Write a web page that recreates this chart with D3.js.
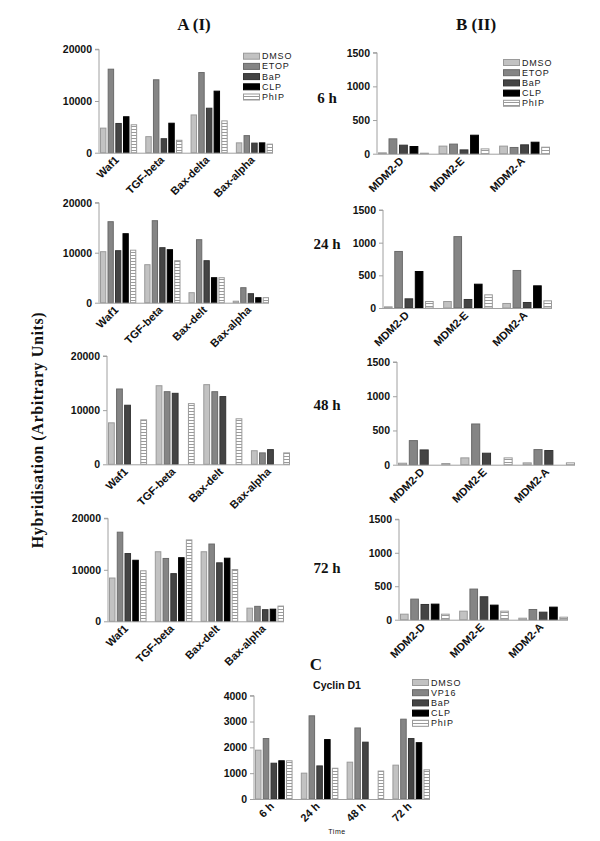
<!DOCTYPE html>
<html><head><meta charset="utf-8">
<script src="https://cdn.jsdelivr.net/npm/d3@7"></script>
<style>body{margin:0;background:#fff}svg{display:block}</style>
</head><body>
<script>
// ---------- DATA ----------
const seriesA = ["DMSO", "ETOP", "BaP", "CLP", "PhIP"];
const seriesC = ["DMSO", "VP16", "BaP", "CLP", "PhIP"];
const genesA6h = ["Waf1", "TGF-beta", "Bax-delta", "Bax-alpha"];
const genesA = ["Waf1", "TGF-beta", "Bax-delt", "Bax-alpha"];
const genesB = ["MDM2-D", "MDM2-E", "MDM2-A"];
const timesC = ["6 h", "24 h", "48 h", "72 h"];
const rowLabels = ["6 h", "24 h", "48 h", "72 h"];
const ticksA = [0, 10000, 20000];
const ticksB = [0, 500, 1000, 1500];
const ticksC = [0, 1000, 2000, 3000, 4000];

// values: one row per series (DMSO, ETOP/VP16, BaP, CLP, PhIP), one column per category
const valuesA6h = [
  [4850, 3200, 7400, 2000],
  [16250, 14200, 15600, 3400],
  [5750, 2800, 8700, 1950],
  [7050, 5800, 12000, 2000],
  [5500, 2500, 6250, 1750]
];
const valuesA24h = [
  [10300, 7700, 2100, 400],
  [16300, 16500, 12700, 3100],
  [10500, 11100, 8500, 1900],
  [13900, 10700, 5100, 1100],
  [10600, 8500, 5100, 1100]
];
const valuesA48h = [
  [7750, 14600, 14800, 2600],
  [14000, 13500, 13500, 2200],
  [11000, 13200, 12600, 2800],
  [0, 0, 0, 0],
  [8300, 11300, 8500, 2200]
];
const valuesA72h = [
  [8500, 13600, 13600, 2650],
  [17400, 12300, 15100, 3000],
  [13250, 9350, 11450, 2350],
  [11950, 12450, 12350, 2450],
  [9900, 15900, 10150, 3050]
];
const valuesB6h = [
  [20, 120, 120],
  [228, 150, 100],
  [134, 64, 139],
  [114, 282, 178],
  [15, 79, 104]
];
const valuesB24h = [
  [25, 107, 77],
  [873, 1100, 582],
  [148, 138, 92],
  [566, 372, 347],
  [107, 209, 117]
];
const valuesB48h = [
  [29, 107, 34],
  [359, 602, 228],
  [223, 175, 214],
  [0, 0, 0],
  [24, 107, 34]
];
const valuesB72h = [
  [90, 135, 30],
  [315, 465, 160],
  [235, 350, 120],
  [240, 225, 195],
  [90, 135, 45]
];
const valuesC = [
  [1910, 1020, 1445, 1330],
  [2360, 3240, 2770, 3110],
  [1405, 1300, 2220, 2360],
  [1500, 2320, 0, 2200],
  [1500, 1210, 1100, 1150]
];

// ---------- DRAW ----------
const W = 600, H = 841;
const svg = d3.select("body").append("svg").attr("width", W).attr("height", H);
const defs = svg.append("defs");
const pat = defs.append("pattern").attr("id", "hstripe").attr("patternUnits", "userSpaceOnUse")
  .attr("width", 4).attr("height", 3);
pat.append("rect").attr("width", 4).attr("height", 3).attr("fill", "#fff");
pat.append("line").attr("x1", 0).attr("x2", 4).attr("y1", 0.5).attr("y2", 0.5)
  .attr("stroke", "#9a9a9a").attr("stroke-width", 1);

const fills = ["#c2c2c2", "#858585", "#444444", "#000000", "url(#hstripe)"];
const strokes = ["#9a9a9a", "#6a6a6a", "#333", "#000", "#9a9a9a"];
const sans = "Arial, 'Liberation Sans', sans-serif";
const serif = "'Liberation Serif', 'Times New Roman', serif";

function panel(cfg) {
  const { x0, x1, yTop, y0, cats, values, ticks, maxV, pad } = cfg;
  const g = svg.append("g");
  const x = d3.scaleBand().domain(cats).range([x0 + 1, x1]).paddingInner(pad).paddingOuter(0);
  const xi = d3.scaleBand().domain(d3.range(values.length)).range([0, x.bandwidth()]).paddingInner(0.16);
  const y = d3.scaleLinear().domain([0, maxV]).range([y0, yTop]);

  // bars
  values.forEach((row, si) => {
    g.append("g").selectAll("rect").data(row).join("rect")
      .attr("x", (d, i) => x(cats[i]) + xi(si) + 0.5)
      .attr("y", d => y(d) + 0.5)
      .attr("width", xi.bandwidth() - 1)
      .attr("height", d => Math.max(0, y0 - y(d) - 0.5))
      .attr("fill", fills[si])
      .attr("stroke", strokes[si])
      .attr("stroke-width", 1)
      .attr("display", d => d > 0 ? null : "none");
  });

  // y axis
  const ya = g.append("g").attr("transform", `translate(${x0},0)`)
    .call(d3.axisLeft(y).tickValues(ticks).tickSize(4).tickPadding(3).tickFormat(d3.format("d")));
  ya.select(".domain").attr("stroke", "#a0a0a0").attr("d", `M-4,${yTop}H0V${y0}`);
  ya.selectAll(".tick line").attr("stroke", "#a0a0a0");
  ya.selectAll(".tick text").attr("font-family", sans).attr("font-weight", "bold")
    .attr("font-size", "10.5px").attr("fill", "#111");

  // x axis line
  g.append("line").attr("x1", x0).attr("x2", x1).attr("y1", y0 + 0.5).attr("y2", y0 + 0.5)
    .attr("stroke", "#a0a0a0");

  // category labels
  g.append("g").selectAll("text").data(cats).join("text")
    .attr("transform", d => `translate(${x(d) + x.bandwidth() / 2 + 1},${y0 + 8}) rotate(-45)`)
    .attr("text-anchor", "end")
    .attr("font-family", sans).attr("font-weight", "bold").attr("font-size", "11px")
    .attr("fill", "#111")
    .text(d => d);
  return g;
}

function legend(lx, ly, names) {
  const g = svg.append("g");
  names.forEach((n, i) => {
    const yy = ly + i * 10.2;
    g.append("rect").attr("x", lx + 0.5).attr("y", yy - 2.5).attr("width", 16).attr("height", 6)
      .attr("fill", fills[i]).attr("stroke", strokes[i]);
    g.append("text").attr("x", lx + 19).attr("y", yy + 3.5)
      .attr("font-family", sans).attr("font-size", "9px").attr("letter-spacing", "0.8px")
      .attr("fill", "#222").text(n);
  });
}

// Panel A
const aRows = [
  { x0: 99, x1: 273, yTop: 49.3, y0: 152.7, cats: genesA6h, values: valuesA6h },
  { x0: 99, x1: 269, yTop: 202.7, y0: 302.7, cats: genesA, values: valuesA24h },
  { x0: 107, x1: 290, yTop: 356, y0: 464.3, cats: genesA, values: valuesA48h },
  { x0: 108, x1: 284, yTop: 518.3, y0: 621.3, cats: genesA, values: valuesA72h }
];
aRows.forEach(r => panel(Object.assign({ ticks: ticksA, maxV: 20000, pad: 0.18 }, r)));

// Panel B
const bRows = [
  { x0: 377, x1: 550, yTop: 52.7, y0: 153.7, values: valuesB6h },
  { x0: 383, x1: 552, yTop: 210, y0: 308, values: valuesB24h },
  { x0: 397, x1: 575, yTop: 362, y0: 464.7, values: valuesB48h },
  { x0: 399, x1: 568, yTop: 519.3, y0: 619.7, values: valuesB72h }
];
bRows.forEach(r => panel(Object.assign({ ticks: ticksB, maxV: 1500, pad: 0.16, cats: genesB }, r)));

// Panel C
panel({ x0: 254, x1: 430, yTop: 695.7, y0: 799, cats: timesC, values: valuesC, ticks: ticksC, maxV: 4000, pad: 0.18 });

legend(243, 55.7, seriesA);
legend(503, 62, seriesA);
legend(412, 682, seriesC);

// titles
const tt = (x, y, s, size, fam, weight, extra) => {
  const t = svg.append("text").attr("x", x).attr("y", y).attr("text-anchor", "middle")
    .attr("font-family", fam).attr("font-weight", weight || "bold").attr("font-size", size)
    .attr("fill", "#111").text(s);
  if (extra) extra(t);
  return t;
};
tt(194, 30, "A (I)", "17px", serif);
tt(476, 30, "B (II)", "17px", serif);
const rowY = [98, 244, 405, 568];
rowLabels.forEach((s, i) => tt(327, rowY[i] + 5, s, "15px", serif));
tt(316, 670, "C", "17px", serif);
tt(337, 689, "Cyclin D1", "10.5px", sans);
tt(337, 834, "Time", "7px", sans, "normal", t => t.attr("letter-spacing", "0.6px"));
svg.append("text").attr("transform", "translate(43,430) rotate(-90)").attr("text-anchor", "middle")
  .attr("font-family", serif).attr("font-weight", "bold").attr("font-size", "16px")
  .attr("letter-spacing", "0.6px").attr("fill", "#111")
  .text("Hybridisation (Arbitrary Units)");
</script>
</body></html>
